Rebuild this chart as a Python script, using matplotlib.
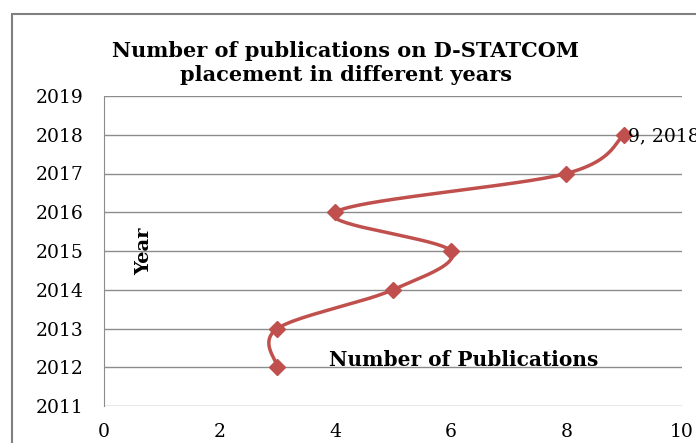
import numpy as np
import matplotlib
matplotlib.use("Agg")
import matplotlib.pyplot as plt
from matplotlib.patches import Rectangle

# Data
publications = [3, 3, 5, 6, 4, 8, 9]
years = [2012, 2013, 2014, 2015, 2016, 2017, 2018]
x_ticks = [0, 2, 4, 6, 8, 10]
y_ticks = [2011, 2012, 2013, 2014, 2015, 2016, 2017, 2018, 2019]
title = "Number of publications on D-STATCOM\nplacement in different years"

RED = "#C0504D"
W, H = 696, 443
plt.rcParams['font.family'] = ['DejaVu Serif']
fig = plt.figure(figsize=(W / 100, H / 100), dpi=100)

# chart area border (extends beyond image)
fig.patches.append(Rectangle((12 / W, -0.1), 1.2, (H - 14) / H + 0.1,
                             transform=fig.transFigure, fill=False,
                             edgecolor="#808080", linewidth=1.5))

left, right, top, bottom = 104, 682, 96, 406
ax = fig.add_axes([left / W, 1 - bottom / H, (right - left) / W, (bottom - top) / H])
ax.set_xlim(0, 10)
ax.set_ylim(2011, 2019)
ax.set_xticks(x_ticks)
ax.set_yticks(y_ticks)
ax.set_yticklabels([str(y) for y in y_ticks])
ax.tick_params(axis='y', length=0, labelsize=13.5, pad=14.5)
ax.tick_params(axis='x', length=0, labelsize=13.5, pad=12)
ax.grid(axis='y', color="#8c8c8c", linewidth=1)
ax.set_axisbelow(True)
for s in ['top', 'right', 'bottom']:
    ax.spines[s].set_visible(False)
ax.spines['left'].set_color("#8c8c8c")


def smooth(xs, ys, n=40):
    P = np.column_stack([xs, ys]).astype(float)
    out = []
    for i in range(len(P) - 1):
        p0 = P[i - 1] if i > 0 else P[i]
        p1, p2 = P[i], P[i + 1]
        p3 = P[i + 2] if i + 2 < len(P) else P[i + 1]
        c1 = p1 + (p2 - p0) / 6
        c2 = p2 - (p3 - p1) / 6
        t = np.linspace(0, 1, n)[:, None]
        seg = ((1 - t) ** 3) * p1 + 3 * ((1 - t) ** 2) * t * c1 + 3 * (1 - t) * t ** 2 * c2 + t ** 3 * p2
        out.append(seg)
    return np.vstack(out)


curve = smooth(publications, years)
ax.plot(curve[:, 0], curve[:, 1], color=RED, linewidth=2.5, solid_capstyle='round', clip_on=False)
ax.plot(publications, years, linestyle='none', marker='D', markersize=8, color=RED, clip_on=False)

ax.annotate(f"{publications[-1]}, {years[-1]}", (publications[-1], years[-1]),
            xytext=(3, -1), textcoords='offset points', fontsize=13.5, va='center', ha='left',
            annotation_clip=False)

fig.text(346 / W, 1 - 63 / H, title, ha='center', va='center', fontsize=15,
         fontweight='bold', linespacing=1.3)
ax.text(144 / W, 1 - 251 / H, "Year", transform=fig.transFigure, rotation=90,
        ha='center', va='center', fontsize=14, fontweight='bold')
ax.text(464 / W, 1 - 360 / H, "Number of Publications", transform=fig.transFigure,
        ha='center', va='center', fontsize=14.5, fontweight='bold')

fig.savefig("out.png", dpi=100)
